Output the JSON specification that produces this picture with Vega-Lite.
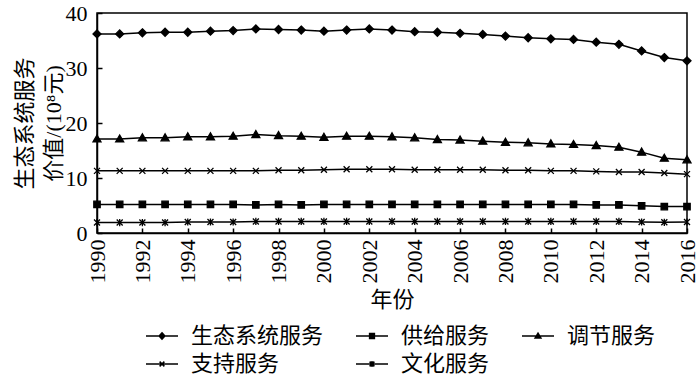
{
  "$schema": "https://vega.github.io/schema/vega-lite/v6.json",
  "width": 590,
  "height": 220,
  "autosize": "none",
  "padding": {"left": 97, "top": 13, "right": 13, "bottom": 151},
  "config": {
    "font": "Liberation Serif, Noto Sans CJK SC",
    "view": {"stroke": "black", "strokeWidth": 1.5},
    "axis": {"domainColor": "black", "domainWidth": 1.5, "tickColor": "black", "tickWidth": 1.5, "labelColor": "black", "titleColor": "black", "grid": false, "labelFontSize": 22, "titleFontSize": 22, "titleFontWeight": "normal", "labelFont": "Liberation Serif", "titleFont": "Liberation Serif, Noto Sans CJK SC"}
  },
  "datasets": {
    "d": [
      {"year":1990,"series":"生态系统服务","value":36.2},{"year":1991,"series":"生态系统服务","value":36.2},{"year":1992,"series":"生态系统服务","value":36.4},{"year":1993,"series":"生态系统服务","value":36.5},{"year":1994,"series":"生态系统服务","value":36.5},{"year":1995,"series":"生态系统服务","value":36.7},{"year":1996,"series":"生态系统服务","value":36.8},{"year":1997,"series":"生态系统服务","value":37.1},{"year":1998,"series":"生态系统服务","value":37.0},{"year":1999,"series":"生态系统服务","value":36.9},{"year":2000,"series":"生态系统服务","value":36.7},{"year":2001,"series":"生态系统服务","value":36.9},{"year":2002,"series":"生态系统服务","value":37.1},{"year":2003,"series":"生态系统服务","value":36.9},{"year":2004,"series":"生态系统服务","value":36.6},{"year":2005,"series":"生态系统服务","value":36.5},{"year":2006,"series":"生态系统服务","value":36.3},{"year":2007,"series":"生态系统服务","value":36.1},{"year":2008,"series":"生态系统服务","value":35.8},{"year":2009,"series":"生态系统服务","value":35.5},{"year":2010,"series":"生态系统服务","value":35.3},{"year":2011,"series":"生态系统服务","value":35.2},{"year":2012,"series":"生态系统服务","value":34.7},{"year":2013,"series":"生态系统服务","value":34.3},{"year":2014,"series":"生态系统服务","value":33.1},{"year":2015,"series":"生态系统服务","value":31.9},{"year":2016,"series":"生态系统服务","value":31.3},
      {"year":1990,"series":"供给服务","value":5.2},{"year":1991,"series":"供给服务","value":5.2},{"year":1992,"series":"供给服务","value":5.2},{"year":1993,"series":"供给服务","value":5.2},{"year":1994,"series":"供给服务","value":5.2},{"year":1995,"series":"供给服务","value":5.2},{"year":1996,"series":"供给服务","value":5.2},{"year":1997,"series":"供给服务","value":5.1},{"year":1998,"series":"供给服务","value":5.2},{"year":1999,"series":"供给服务","value":5.1},{"year":2000,"series":"供给服务","value":5.2},{"year":2001,"series":"供给服务","value":5.2},{"year":2002,"series":"供给服务","value":5.2},{"year":2003,"series":"供给服务","value":5.2},{"year":2004,"series":"供给服务","value":5.2},{"year":2005,"series":"供给服务","value":5.2},{"year":2006,"series":"供给服务","value":5.2},{"year":2007,"series":"供给服务","value":5.2},{"year":2008,"series":"供给服务","value":5.2},{"year":2009,"series":"供给服务","value":5.2},{"year":2010,"series":"供给服务","value":5.2},{"year":2011,"series":"供给服务","value":5.2},{"year":2012,"series":"供给服务","value":5.1},{"year":2013,"series":"供给服务","value":5.1},{"year":2014,"series":"供给服务","value":4.95},{"year":2015,"series":"供给服务","value":4.8},{"year":2016,"series":"供给服务","value":4.8},
      {"year":1990,"series":"调节服务","value":17.1},{"year":1991,"series":"调节服务","value":17.1},{"year":1992,"series":"调节服务","value":17.3},{"year":1993,"series":"调节服务","value":17.3},{"year":1994,"series":"调节服务","value":17.5},{"year":1995,"series":"调节服务","value":17.5},{"year":1996,"series":"调节服务","value":17.6},{"year":1997,"series":"调节服务","value":17.9},{"year":1998,"series":"调节服务","value":17.7},{"year":1999,"series":"调节服务","value":17.6},{"year":2000,"series":"调节服务","value":17.4},{"year":2001,"series":"调节服务","value":17.6},{"year":2002,"series":"调节服务","value":17.6},{"year":2003,"series":"调节服务","value":17.5},{"year":2004,"series":"调节服务","value":17.3},{"year":2005,"series":"调节服务","value":17.0},{"year":2006,"series":"调节服务","value":16.9},{"year":2007,"series":"调节服务","value":16.7},{"year":2008,"series":"调节服务","value":16.5},{"year":2009,"series":"调节服务","value":16.4},{"year":2010,"series":"调节服务","value":16.2},{"year":2011,"series":"调节服务","value":16.1},{"year":2012,"series":"调节服务","value":15.9},{"year":2013,"series":"调节服务","value":15.6},{"year":2014,"series":"调节服务","value":14.7},{"year":2015,"series":"调节服务","value":13.6},{"year":2016,"series":"调节服务","value":13.3},
      {"year":1990,"series":"支持服务","value":11.3},{"year":1991,"series":"支持服务","value":11.3},{"year":1992,"series":"支持服务","value":11.3},{"year":1993,"series":"支持服务","value":11.3},{"year":1994,"series":"支持服务","value":11.3},{"year":1995,"series":"支持服务","value":11.3},{"year":1996,"series":"支持服务","value":11.3},{"year":1997,"series":"支持服务","value":11.3},{"year":1998,"series":"支持服务","value":11.4},{"year":1999,"series":"支持服务","value":11.4},{"year":2000,"series":"支持服务","value":11.5},{"year":2001,"series":"支持服务","value":11.6},{"year":2002,"series":"支持服务","value":11.6},{"year":2003,"series":"支持服务","value":11.6},{"year":2004,"series":"支持服务","value":11.5},{"year":2005,"series":"支持服务","value":11.5},{"year":2006,"series":"支持服务","value":11.5},{"year":2007,"series":"支持服务","value":11.5},{"year":2008,"series":"支持服务","value":11.4},{"year":2009,"series":"支持服务","value":11.4},{"year":2010,"series":"支持服务","value":11.3},{"year":2011,"series":"支持服务","value":11.3},{"year":2012,"series":"支持服务","value":11.2},{"year":2013,"series":"支持服务","value":11.1},{"year":2014,"series":"支持服务","value":11.1},{"year":2015,"series":"支持服务","value":10.9},{"year":2016,"series":"支持服务","value":10.7},
      {"year":1990,"series":"文化服务","value":1.9},{"year":1991,"series":"文化服务","value":1.9},{"year":1992,"series":"文化服务","value":1.9},{"year":1993,"series":"文化服务","value":1.9},{"year":1994,"series":"文化服务","value":2.0},{"year":1995,"series":"文化服务","value":2.0},{"year":1996,"series":"文化服务","value":2.0},{"year":1997,"series":"文化服务","value":2.1},{"year":1998,"series":"文化服务","value":2.1},{"year":1999,"series":"文化服务","value":2.1},{"year":2000,"series":"文化服务","value":2.1},{"year":2001,"series":"文化服务","value":2.1},{"year":2002,"series":"文化服务","value":2.1},{"year":2003,"series":"文化服务","value":2.1},{"year":2004,"series":"文化服务","value":2.1},{"year":2005,"series":"文化服务","value":2.1},{"year":2006,"series":"文化服务","value":2.1},{"year":2007,"series":"文化服务","value":2.1},{"year":2008,"series":"文化服务","value":2.1},{"year":2009,"series":"文化服务","value":2.1},{"year":2010,"series":"文化服务","value":2.1},{"year":2011,"series":"文化服务","value":2.1},{"year":2012,"series":"文化服务","value":2.1},{"year":2013,"series":"文化服务","value":2.1},{"year":2014,"series":"文化服务","value":2.0},{"year":2015,"series":"文化服务","value":1.95},{"year":2016,"series":"文化服务","value":2.0}
    ]
  },
  "data": {"name": "d"},
  "encoding": {
    "x": {"field": "year", "type": "quantitative", "scale": {"domain": [1990, 2016], "nice": false, "zero": false},
      "axis": {"values": [1990,1992,1994,1996,1998,2000,2002,2004,2006,2008,2010,2012,2014,2016], "format": "d", "labelAngle": -90, "tickSize": -5, "labelPadding": 11, "title": "年份", "titlePadding": 6, "labelFlush": false, "labelOverlap": false}},
    "y": {"field": "value", "type": "quantitative", "scale": {"domain": [0, 40], "nice": false},
      "axis": {"values": [0,10,20,30,40], "tickSize": -5, "labelPadding": 15, "title": ["生态系统服务", "价值/(10⁸元)"], "titlePadding": 0, "titleLineHeight": 29, "labelFlush": false}}
  },
  "layer": [
    {"mark": {"type": "line", "color": "black", "strokeWidth": 1.5}, "encoding": {"detail": {"field": "series"}}},
    {"mark": {"type": "point", "filled": true, "fill": "black", "stroke": "black", "strokeWidth": 1.3, "size": 64, "opacity": 1},
      "encoding": {"shape": {"field": "series", "type": "nominal",
        "scale": {"domain": ["生态系统服务", "供给服务", "调节服务", "支持服务", "文化服务"],
          "range": ["M0,-1L1,0L0,1L-1,0Z", "M-0.8,-0.8L0.8,-0.8L0.8,0.8L-0.8,0.8Z", "M0,-1L1,0.75L-1,0.75Z", "M-0.75,-0.75L0.75,0.75M-0.75,0.75L0.75,-0.75", "M-0.75,-0.75L0.75,0.75M-0.75,0.75L0.75,-0.75M0,-0.9L0,0.9"]},
        "legend": null}}
    },
    {"transform": [{"filter": "datum.year < 0"}],
      "mark": {"type": "point", "filled": false, "stroke": "black", "color": "black", "strokeWidth": 1.5, "opacity": 1},
      "encoding": {"shape": {"field": "series", "type": "nominal",
        "scale": {"domain": ["生态系统服务", "供给服务", "调节服务", "支持服务", "文化服务"],
          "range": ["M-1,0L1,0M0,-0.2L0.18,0L0,0.2L-0.18,0ZM0,-0.2L0,0.2M0,-0.1L0.09,0L0,0.1L-0.09,0Z", "M-1,0L1,0M-0.15,-0.15L0.15,-0.15L0.15,0.15L-0.15,0.15ZM0,-0.15L0,0.15M-0.07,-0.07L0.07,-0.07L0.07,0.07L-0.07,0.07Z", "M-1,0L1,0M0,-0.18L0.18,0.13L-0.18,0.13ZM0,-0.18L0,0.13M-0.09,0.06L0.09,0.06M-0.05,-0.05L0.05,-0.05", "M-1,0L1,0M-0.15,-0.15L0.15,0.15M-0.15,0.15L0.15,-0.15", "M-1,0L1,0M-0.15,-0.15L0.15,0.15M-0.15,0.15L0.15,-0.15M0,-0.18L0,0.18"]},
        "legend": {"orient": "none", "legendX": 48, "legendY": 306, "columns": 3, "direction": "horizontal", "title": null,
          "labelFontSize": 22, "labelFont": "Noto Sans CJK SC", "labelColor": "black", "symbolSize": 1024, "symbolStrokeWidth": 1.5, "symbolStrokeColor": "black", "symbolOpacity": 1,
          "columnPadding": 29, "rowPadding": 0, "labelOffset": 12}}}
    }
  ],
  "resolve": {"scale": {"shape": "independent"}, "legend": {"shape": "independent"}}
}
